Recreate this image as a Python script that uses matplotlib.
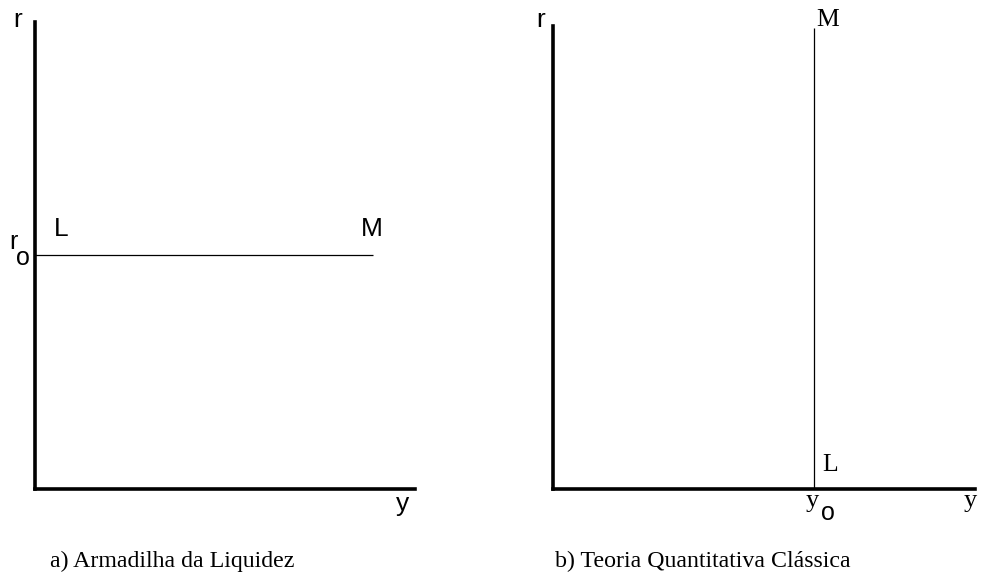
import matplotlib
matplotlib.use("Agg")
import matplotlib.pyplot as plt

# panel a: liquidity trap, horizontal LM at r0
lm_a_x = [0.0, 8.9]
lm_a_r = [5.0, 5.0]
# panel b: classical quantity theory, vertical LM at y0
lm_b_y = [6.18, 6.18]
lm_b_r = [0.0, 9.96]

captions = ["a) Armadilha da Liquidez", "b) Teoria Quantitativa Clássica"]

W, H = 983, 577
fig = plt.figure(figsize=(W / 100, H / 100), dpi=100)


def make_axes(left, right, top, bottom):
    ax = fig.add_axes([left / W, 1 - bottom / H, (right - left) / W, (bottom - top) / H])
    ax.set_xlim(0, 10)
    ax.set_ylim(0, 10)
    for s in ["top", "right"]:
        ax.spines[s].set_visible(False)
    for s in ["left", "bottom"]:
        ax.spines[s].set_linewidth(2.6)
        ax.spines[s].set_capstyle("projecting")
    ax.set_xticks([])
    ax.set_yticks([])
    ax.patch.set_alpha(0)
    return ax


def label(px, py, s, family, size):
    # px, py: left/baseline position in pixels from top-left
    fig.text(px / W, 1 - py / H, s, family=family, fontsize=size,
             ha="left", va="baseline")


sans = "Liberation Sans"
serif = "Liberation Serif"

# --- panel a
ax1 = make_axes(35, 415, 22, 489)
ax1.plot(lm_a_x, lm_a_r, color="black", lw=0.9, solid_capstyle="butt")
label(13, 27, "r", sans, 19)
label(54, 236, "L", sans, 19)
label(361, 236, "M", sans, 19)
label(9, 249, "r", sans, 18)
label(16, 265, "o", sans, 18)
label(396, 511, "y", sans, 19)
label(50, 567, captions[0], serif, 17.2)

# --- panel b
ax2 = make_axes(553, 975, 26, 489)
ax2.plot(lm_b_y, lm_b_r, color="black", lw=0.9, solid_capstyle="butt")
label(536, 27, "r", sans, 19)
label(816, 26, "M", serif, 18.5)
label(822, 471, "L", serif, 18.5)
label(806, 507, "y", serif, 19)
label(821, 520, "o", sans, 18)
label(964, 507, "y", serif, 19)
label(555, 567, captions[1], serif, 17.2)

fig.savefig("out.png", dpi=100)
